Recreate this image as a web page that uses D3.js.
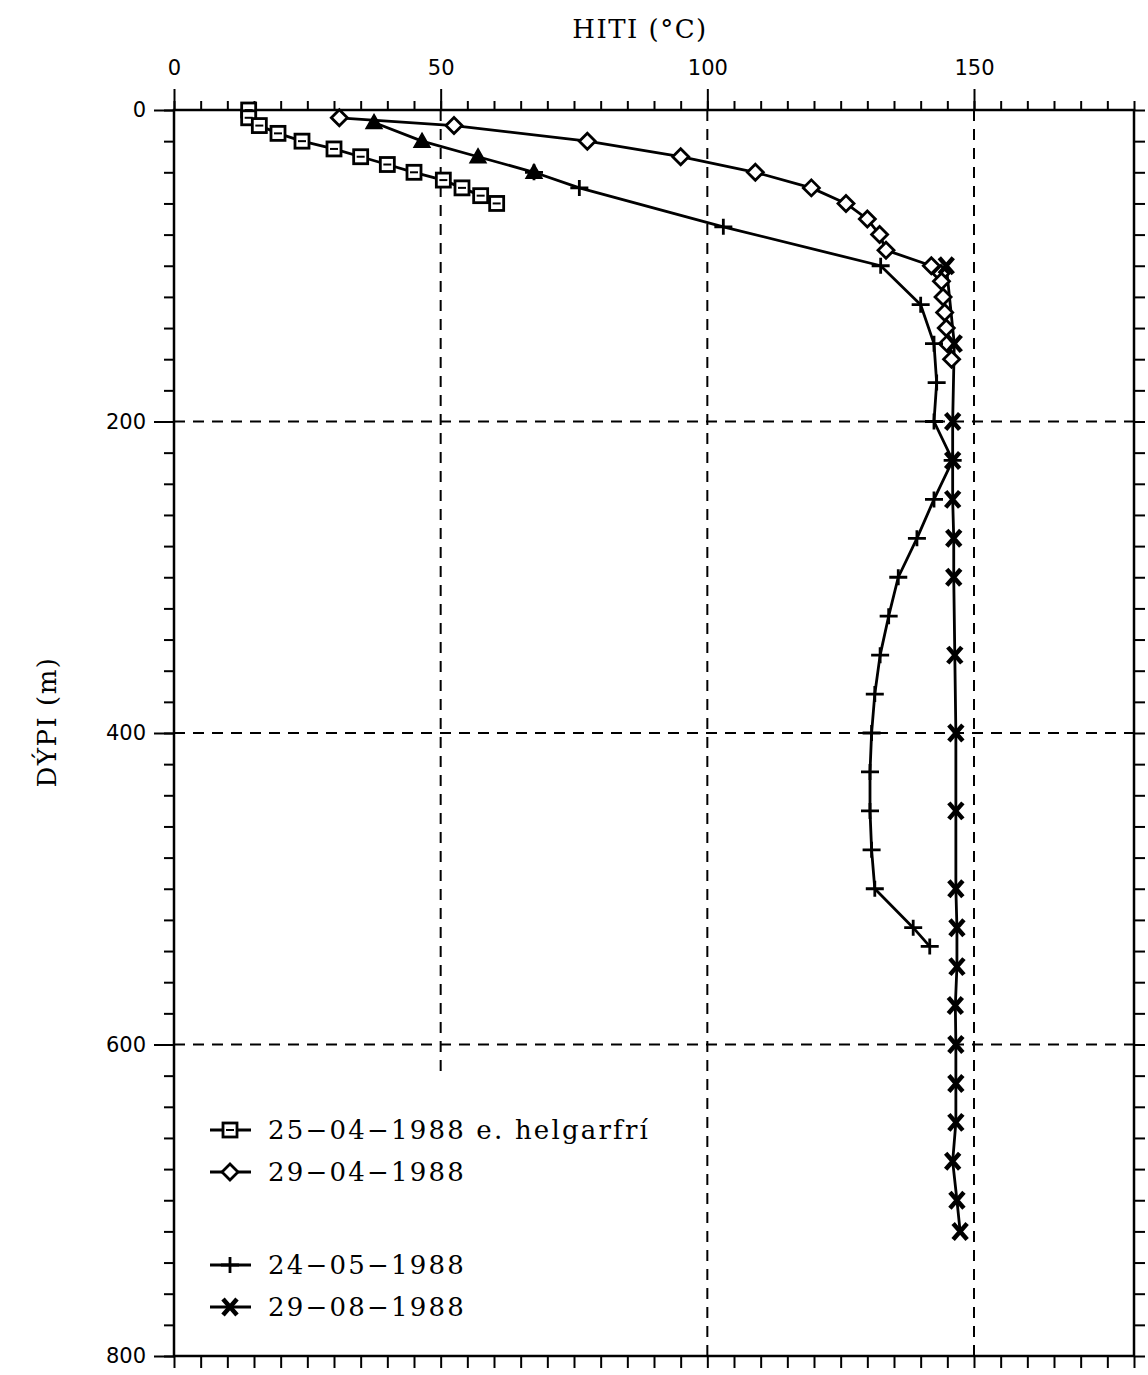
<!DOCTYPE html>
<html>
<head>
<meta charset="utf-8">
<script src="https://cdn.jsdelivr.net/npm/d3@7"></script>
<style>
  body { margin: 0; background: #fff; }
  svg { display: block; }
  .tick text { font-family: "DejaVu Sans", sans-serif; }
</style>
</head>
<body>
<svg width="1148" height="1375"></svg>
<script>
// temperature profiles: [depth m, temperature °C]
var depthSq = [0, 5, 10, 15, 20, 25, 30, 35, 40, 45, 50, 55, 60];
var tempSq  = [14, 14, 16, 19.5, 24, 30, 35, 40, 45, 50.5, 54, 57.5, 60.5];

var depthDia = [5, 10, 20, 30, 40, 50, 60, 70, 80, 90, 100, 105, 110, 120, 130, 140, 150, 160];
var tempDia  = [31, 52.5, 77.5, 95, 109, 119.5, 126, 130, 132.3, 133.5, 142, 143.8, 143.9, 144.2, 144.5, 144.8, 145, 145.8];

var depthTri = [8, 20, 30, 40];
var tempTri  = [37.5, 46.5, 57, 67.5];

var depthPlus = [40, 50, 75, 100, 125, 150, 175, 200, 225, 250, 275, 300, 325, 350, 375, 400, 425, 450, 475, 500, 525, 537];
var tempPlus  = [67.5, 76, 103, 132.5, 140, 142.5, 143, 142.5, 146, 142.5, 139.3, 135.8, 134, 132.4, 131.4, 130.8, 130.5, 130.5, 130.8, 131.4, 138.6, 141.7];

var depthX = [100, 150, 200, 225, 250, 275, 300, 350, 400, 450, 500, 525, 550, 575, 600, 625, 650, 675, 700, 720];
var tempX  = [144.8, 146.3, 146, 146, 146, 146.2, 146.2, 146.4, 146.6, 146.6, 146.6, 146.8, 146.8, 146.5, 146.6, 146.6, 146.6, 146, 146.8, 147.4];

var legendLabels = ["25\u221204\u22121988 e. helgarfr\u00ed", "29\u221204\u22121988", "", "24\u221205\u22121988", "29\u221208\u22121988"];
var xMajor = [0, 50, 100, 150];
var yMajor = [0, 200, 400, 600, 800];

var svg = d3.select("svg");
var mLeft = 174, mRight = 1134, mTop = 110, mBottom = 1356;

var x = d3.scaleLinear().domain([0, 180]).range([mLeft, mRight]);
var y = d3.scaleLinear().domain([0, 800]).range([mTop, mBottom]);

function zip(d, t) { return d.map(function(v, i) { return {d: v, t: t[i]}; }); }
var series = [
  {data: zip(depthSq, tempSq), mark: "square"},
  {data: zip(depthDia, tempDia), mark: "diamond"},
  {data: zip(depthPlus, tempPlus), mark: "plus"},
  {data: zip(depthTri, tempTri), mark: "triangle"},
  {data: zip(depthX, tempX), mark: "cross"}
];

// grid (dashed)
var grid = svg.append("g").attr("stroke", "#000").attr("stroke-width", 2).attr("stroke-dasharray", "11,8");
[50, 100, 150].forEach(function(v) {
  grid.append("line").attr("x1", x(v)).attr("x2", x(v)).attr("y1", mTop).attr("y2", v == 50 ? 1078 : mBottom);
});
[200, 400, 600].forEach(function(v) {
  grid.append("line").attr("x1", mLeft).attr("x2", mRight).attr("y1", y(v)).attr("y2", y(v));
});

// axes: minor ticks
function styleAxis(g) {
  g.select(".domain").remove();
  g.selectAll(".tick line").attr("stroke", "#000").attr("stroke-width", 2);
}
svg.append("g").attr("transform", "translate(0," + mTop + ")")
  .call(d3.axisTop(x).tickValues(d3.range(0, 181, 5)).tickSize(9).tickFormat("")).call(styleAxis);
svg.append("g").attr("transform", "translate(0," + mTop + ")")
  .call(d3.axisTop(x).tickValues(xMajor).tickSize(21).tickPadding(14)).call(styleAxis)
  .selectAll("text").attr("font-size", 21).attr("fill", "#000");
svg.append("g").attr("transform", "translate(0," + mBottom + ")")
  .call(d3.axisBottom(x).tickValues(d3.range(0, 181, 5)).tickSize(12).tickFormat("")).call(styleAxis);
svg.append("g").attr("transform", "translate(" + mLeft + ",0)")
  .call(d3.axisLeft(y).tickValues(d3.range(0, 801, 20)).tickSize(10).tickFormat("")).call(styleAxis);
svg.append("g").attr("transform", "translate(" + mLeft + ",0)")
  .call(d3.axisLeft(y).tickValues(yMajor).tickSize(20).tickPadding(8)).call(styleAxis)
  .selectAll("text").attr("font-size", 21).attr("fill", "#000");
svg.append("g").attr("transform", "translate(" + mRight + ",0)")
  .call(d3.axisRight(y).tickValues(d3.range(0, 801, 20)).tickSize(11).tickFormat("")).call(styleAxis);

// frame
svg.append("rect").attr("x", mLeft).attr("y", mTop).attr("width", mRight - mLeft).attr("height", mBottom - mTop)
  .attr("fill", "none").attr("stroke", "#000").attr("stroke-width", 2.5);

// titles
svg.append("text").attr("x", 640).attr("y", 38).attr("text-anchor", "middle")
  .attr("font-family", "DejaVu Serif, serif").attr("font-size", 26).attr("letter-spacing", 1.5).text("HITI  (\u00b0C)");
svg.append("text").attr("transform", "translate(56,722) rotate(-90)").attr("text-anchor", "middle")
  .attr("font-family", "DejaVu Serif, serif").attr("font-size", 26).attr("letter-spacing", 1.5).text("D\u00ddPI  (m)");

// markers
function drawMark(g, type, cx, cy) {
  if (type == "square") {
    g.append("rect").attr("x", cx - 7).attr("y", cy - 7).attr("width", 14).attr("height", 14)
      .attr("fill", "#fff").attr("stroke", "#000").attr("stroke-width", 2.8);
    g.append("line").attr("x1", cx - 4).attr("x2", cx + 4).attr("y1", cy).attr("y2", cy)
      .attr("stroke", "#000").attr("stroke-width", 2);
  } else if (type == "diamond") {
    g.append("path").attr("d", "M" + cx + "," + (cy - 8) + "L" + (cx + 8) + "," + cy + "L" + cx + "," + (cy + 8) + "L" + (cx - 8) + "," + cy + "Z")
      .attr("fill", "#fff").attr("stroke", "#000").attr("stroke-width", 2.8);
  } else if (type == "triangle") {
    g.append("path").attr("d", "M" + cx + "," + (cy - 8) + "L" + (cx + 8) + "," + (cy + 6) + "L" + (cx - 8) + "," + (cy + 6) + "Z")
      .attr("fill", "#000").attr("stroke", "#000").attr("stroke-width", 1.5);
  } else if (type == "plus") {
    g.append("path").attr("d", "M" + (cx - 9) + "," + cy + "H" + (cx + 9) + "M" + cx + "," + (cy - 8) + "V" + (cy + 8))
      .attr("stroke", "#000").attr("stroke-width", 2.8);
  } else if (type == "cross") {
    g.append("path").attr("d", "M" + (cx - 7) + "," + (cy - 8) + "L" + (cx + 7) + "," + (cy + 8) + "M" + (cx + 7) + "," + (cy - 8) + "L" + (cx - 7) + "," + (cy + 8))
      .attr("stroke", "#000").attr("stroke-width", 4.5);
  }
}

var line = d3.line().x(function(p) { return x(p.t); }).y(function(p) { return y(p.d); });
series.forEach(function(s) {
  svg.append("path").datum(s.data).attr("d", line)
    .attr("fill", "none").attr("stroke", "#000").attr("stroke-width", 2.8).attr("stroke-linejoin", "round");
});
series.forEach(function(s) {
  var g = svg.append("g");
  s.data.forEach(function(p) { drawMark(g, s.mark, x(p.t), y(p.d)); });
});

// legend
var legendMarks = ["square", "diamond", null, "plus", "cross"];
var legendY = [1130, 1172, 1218, 1265, 1307];
legendLabels.forEach(function(lbl, i) {
  if (!legendMarks[i]) return;
  var g = svg.append("g");
  g.append("line").attr("x1", 210).attr("x2", 251).attr("y1", legendY[i]).attr("y2", legendY[i])
    .attr("stroke", "#000").attr("stroke-width", 2.8);
  drawMark(g, legendMarks[i], 230, legendY[i]);
  g.append("text").attr("x", 268).attr("y", legendY[i] + 9)
    .attr("font-family", "DejaVu Serif, serif").attr("font-size", 26).attr("letter-spacing", 2.2).text(lbl);
});
</script>
</body>
</html>
